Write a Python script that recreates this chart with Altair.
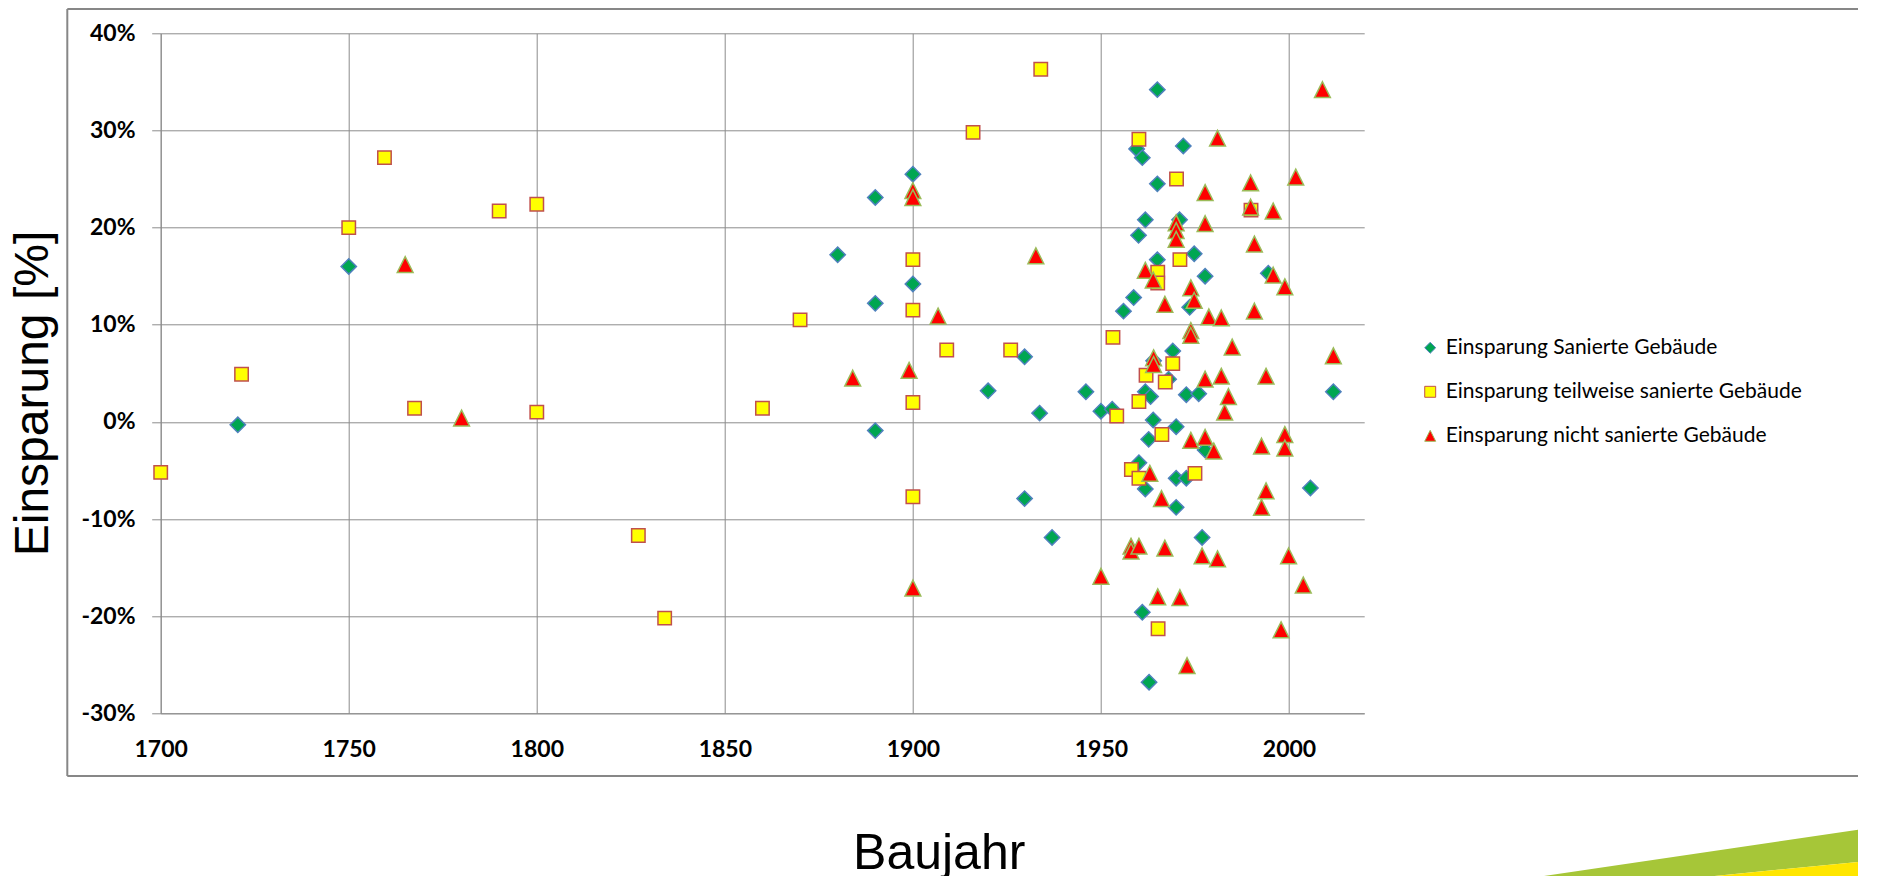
import altair as alt
import pandas as pd

# ---------------- data ----------------
S1 = "Einsparung Sanierte Gebäude"
S2 = "Einsparung teilweise sanierte Gebäude"
S3 = "Einsparung nicht sanierte Gebäude"
SERIES = [S1, S2, S3]

san_year = [1720.5, 1750, 1880, 1890, 1890, 1890, 1900, 1900, 1920, 1929.7,
            1929.7, 1933.7, 1937, 1946, 1950, 1953, 1956, 1958.7, 1959.5, 1960,
            1960.1, 1961, 1961, 1961.8, 1961.8, 1961.8, 1962.7, 1962.8, 1963.2, 1963.9,
            1964, 1965, 1965, 1965, 1968, 1969.1, 1970, 1970, 1970, 1970.9,
            1971.9, 1972.7, 1972.7, 1973.6, 1974.8, 1976, 1976.9, 1977.7, 1977.7, 1994.5,
            2005.7, 2011.8]
san_val = [-0.3, 16.0, 17.2, 23.1, 12.2, -0.9, 25.5, 14.2, 3.2, 6.7,
           -7.9, 0.9, -11.9, 3.1, 1.1, 1.3, 11.4, 12.8, 28.1, 19.2,
           -4.2, 27.2, -19.6, 20.8, 3.1, -6.9, -1.8, -26.8, 2.6, 0.2,
           6.3, 34.2, 24.5, 16.7, 4.4, 7.3, -0.5, -5.8, -8.8, 20.8,
           28.4, 2.8, -5.8, 11.8, 17.3, 2.9, -11.9, 15.0, -2.9, 15.3,
           -6.8, 3.1]

teil_year = [1700, 1721.5, 1750, 1759.5, 1767.5, 1790, 1800, 1800, 1827, 1834,
             1860, 1870, 1900, 1900, 1900, 1900, 1909, 1916, 1926, 1934,
             1953.2, 1954.2, 1958.1, 1960.1, 1960.1, 1960.1, 1962, 1965.1, 1965.1, 1965.2,
             1966.2, 1967.1, 1969.1, 1970.1, 1971, 1975, 1989.9]
teil_val = [-5.2, 4.9, 20.0, 27.2, 1.4, 21.7, 22.4, 1.0, -11.7, -20.2,
            1.4, 10.5, 16.7, 11.5, 2.0, -7.7, 7.4, 29.8, 7.4, 36.3,
            8.7, 0.6, -4.9, 29.1, 2.1, -5.8, 4.8, 15.4, 14.3, -21.3,
            -1.3, 4.1, 6.0, 25.0, 16.7, -5.3, 21.8]

nicht_year = [1765, 1780, 1884, 1899, 1900, 1900, 1900, 1906.7, 1932.7, 1950,
              1958, 1958, 1960.1, 1961.8, 1963, 1963.9, 1964, 1964, 1965.1, 1966.1,
              1967, 1967, 1970, 1970, 1970, 1971, 1972.9, 1973.9, 1973.9, 1973.9,
              1973.9, 1974.8, 1976.9, 1977.7, 1977.7, 1977.7, 1977.7, 1978.7, 1980, 1981,
              1981, 1982, 1982, 1982.9, 1983.9, 1984.9, 1989.8, 1989.8, 1990.8, 1990.8,
              1992.7, 1992.7, 1993.9, 1993.9, 1995.8, 1995.8, 1997.9, 1998.9, 1998.9, 1998.9,
              1999.9, 2001.8, 2003.8, 2008.9, 2011.8]
nicht_val = [16.2, 0.4, 4.5, 5.3, 23.8, 23.1, -17.1, 10.9, 17.1, -15.9,
             -12.8, -13.3, -12.8, 15.6, -5.3, 14.6, 6.6, 5.9, -18.0, -7.9,
             12.1, -13.0, 20.5, 19.7, 18.8, -18.1, -25.1, 13.8, 9.4, 8.9,
             -1.9, 12.5, -13.8, 23.6, 20.4, 4.4, -1.6, 10.8, -3.0, 29.2,
             -14.1, 10.7, 4.7, 1.0, 2.6, 7.7, 24.6, 22.1, 18.3, 11.4,
             -2.5, -8.8, 4.7, -7.1, 21.7, 15.1, -21.4, 13.9, -1.3, -2.7,
             -13.8, 25.2, -16.8, 34.2, 6.8]

x_ticks = [1700, 1750, 1800, 1850, 1900, 1950, 2000]
y_ticks = [-30, -20, -10, 0, 10, 20, 30, 40]

# ---------------- styling ----------------
GRID = "#8c8c8c"
FRAME = "#878787"
TRI_PATH = "M0,-1L1,1L-1,1Z"
shape_scale = alt.Scale(domain=SERIES, range=["diamond", "square", TRI_PATH])
fill_scale = alt.Scale(domain=SERIES, range=["#00A651", "#FFFF00", "#FF0000"])
stroke_scale = alt.Scale(domain=SERIES, range=["#4F81BD", "#C0504D", "#9BBB59"])

PLOT_W = 1203.5
PLOT_H = 680

legend = alt.Legend(
    title=None, orient="none", legendX=1259, legendY=304, direction="vertical",
    labelFont="Lato", labelFontSize=21, labelColor="#000000",
    labelLimit=600, symbolSize=120, symbolStrokeWidth=1, rowPadding=22,
    labelOffset=5, padding=0,
)

x_enc = alt.X(
    "Baujahr:Q",
    scale=alt.Scale(domain=[1700, 2020], nice=False, zero=False),
    axis=alt.Axis(
        values=x_ticks, format="d", title="Baujahr",
        grid=True, gridColor=GRID, gridWidth=1, gridOpacity=1,
        domainColor=GRID, domainWidth=1, ticks=False, tickSize=0,
        labelFont="Lato", labelFontWeight="bold", labelFontSize=23, labelColor="#000000",
        labelPadding=25, labelFlush=False, labelOverlap=False,
        titleFont="Liberation Sans", titleFontSize=50, titleFontWeight="normal",
        titleColor="#000000", titleX=778, titleY=155, titleAlign="center",
        titleBaseline="alphabetic", titleAngle=0,
    ),
)
y_enc = alt.Y(
    "Einsparung:Q",
    scale=alt.Scale(domain=[-30, 40], nice=False, zero=False),
    axis=alt.Axis(
        values=y_ticks, labelExpr="datum.value + '%'", title="Einsparung [%]",
        grid=True, gridColor=GRID, gridWidth=1, gridOpacity=1,
        domainColor=GRID, domainWidth=1, ticks=True, tickSize=9, tickColor=GRID,
        labelFont="Lato", labelFontWeight="bold", labelFontSize=23, labelColor="#000000",
        labelPadding=16.7, labelFlush=False, labelOverlap=False,
        titleFont="Liberation Sans", titleFontSize=48, titleFontWeight="normal",
        titleColor="#000000", titleX=-113, titleY=359.7, titleAngle=270,
        titleAlign="center", titleBaseline="alphabetic",
    ),
)


def series_layer(years, vals, name, size):
    df = pd.DataFrame({"Baujahr": years, "Einsparung": vals, "series": name})
    return alt.Chart(df).mark_point(
        filled=True, size=size, opacity=1, strokeWidth=1.5
    ).encode(
        x=x_enc,
        y=y_enc,
        shape=alt.Shape("series:N", scale=shape_scale, legend=legend),
        fill=alt.Fill("series:N", scale=fill_scale, legend=legend),
        stroke=alt.Stroke("series:N", scale=stroke_scale, legend=legend),
    )


layer_san = series_layer(san_year, san_val, S1, 235)
layer_teil = series_layer(teil_year, teil_val, S2, 180)
layer_nicht = series_layer(nicht_year, nicht_val, S3, 250)

# ---------------- decorative slide frame & swoosh ----------------
one = alt.Data(values=[{"k": 0}])
frame_top = alt.Chart(one).mark_rule(color=FRAME, strokeWidth=2).encode(
    x=alt.value(-93.4), x2=alt.value(1697.3), y=alt.value(-24.3))
frame_left = alt.Chart(one).mark_rule(color=FRAME, strokeWidth=2).encode(
    x=alt.value(-93.4), y=alt.value(-24.3), y2=alt.value(742.7))
frame_bottom = alt.Chart(one).mark_rule(color=FRAME, strokeWidth=2).encode(
    x=alt.value(-93.4), x2=alt.value(1697.3), y=alt.value(742.7))

GREEN_PATH = "M-0.849,0.136L0.995,-0.135L0.995,0.045L0.070,0.136Z"
YELLOW_PATH = "M0.070,0.136L0.995,0.045L0.995,0.136Z"
swoosh_green = alt.Chart(one).mark_point(
    filled=True, shape=GREEN_PATH, size=136900, opacity=1, color="#A6C638", strokeWidth=0
).encode(x=alt.value(1539.3), y=alt.value(817.7))
swoosh_yellow = alt.Chart(one).mark_point(
    filled=True, shape=YELLOW_PATH, size=136900, opacity=1, color="#FFE600", strokeWidth=0
).encode(x=alt.value(1539.3), y=alt.value(817.7))

chart = alt.layer(
    frame_top, frame_left, frame_bottom, swoosh_green, swoosh_yellow,
    layer_san, layer_teil, layer_nicht,
).properties(
    width=PLOT_W,
    height=PLOT_H,
    padding={"left": 152.7, "top": 25.3, "right": 493.8, "bottom": 162.7},
    autosize=alt.AutoSizeParams(type="none"),
    background="#ffffff",
).configure_view(stroke="transparent")

chart.save("out.html", embed_options={"renderer": "svg", "actions": False})
